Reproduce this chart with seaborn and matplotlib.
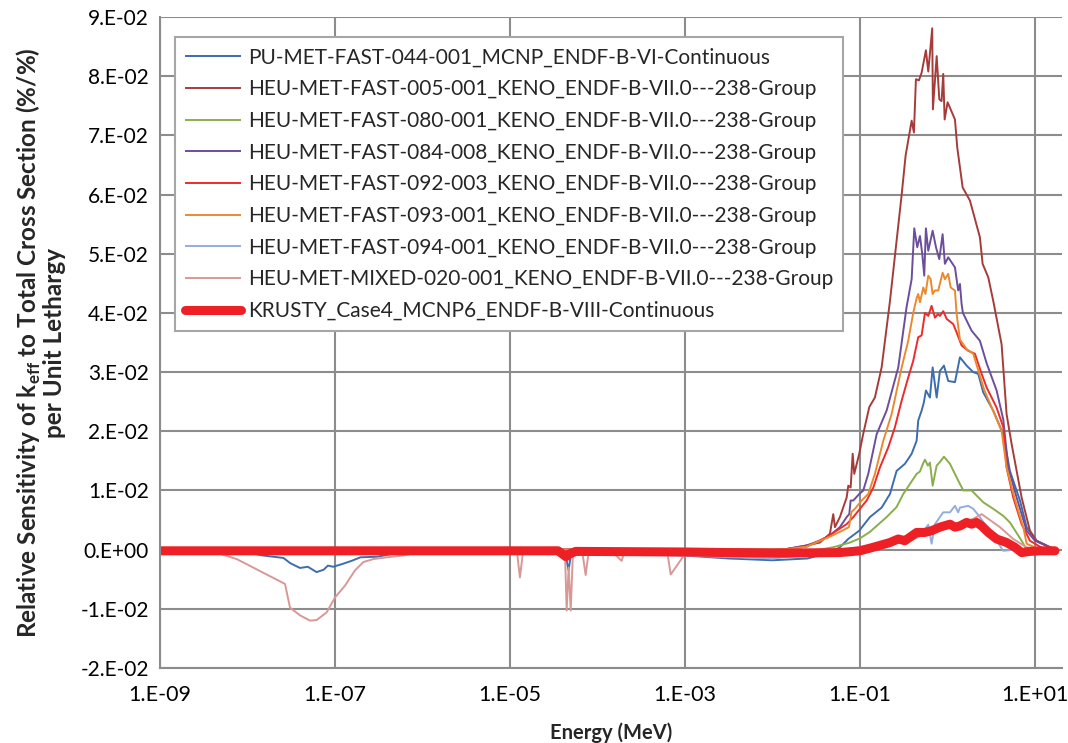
import numpy as np
import pandas as pd
import seaborn as sns
import matplotlib.pyplot as plt
from matplotlib.ticker import FixedLocator, MultipleLocator, NullLocator, FuncFormatter

# ---- data: energies as log10(E / MeV), sensitivities in %/% per unit lethargy ----
names = [
    "PU-MET-FAST-044-001_MCNP_ENDF-B-VI-Continuous",
    "HEU-MET-FAST-005-001_KENO_ENDF-B-VII.0---238-Group",
    "HEU-MET-FAST-080-001_KENO_ENDF-B-VII.0---238-Group",
    "HEU-MET-FAST-084-008_KENO_ENDF-B-VII.0---238-Group",
    "HEU-MET-FAST-092-003_KENO_ENDF-B-VII.0---238-Group",
    "HEU-MET-FAST-093-001_KENO_ENDF-B-VII.0---238-Group",
    "HEU-MET-FAST-094-001_KENO_ENDF-B-VII.0---238-Group",
    "HEU-MET-MIXED-020-001_KENO_ENDF-B-VII.0---238-Group",
    "KRUSTY_Case4_MCNP6_ENDF-B-VIII-Continuous",
]
colors = ["#3C6DAF", "#A63C3A", "#8AAE4C", "#6B4F9C", "#EE2B2B",
          "#EA8A30", "#93AEDC", "#D89896", "#EE1F25"]

pu_loge = [-9.0, -8.2, -7.82, -7.59, -7.51, -7.40, -7.31, -7.21, -7.13, -7.08, -7.02, -6.91,
           -6.81, -6.71, -6.52, -6.26, -5.9, -4.37, -4.33, -4.30, -3.0, -2.5, -2.0, -1.6, -1.34,
           -1.229, -1.134, -1.008, -0.886, -0.752, -0.657, -0.581, -0.486, -0.409, -0.352,
           -0.334, -0.295, -0.269, -0.246, -0.2, -0.169, -0.123, -0.086, -0.04, 0.009, 0.086,
           0.143, 0.219, 0.295, 0.352, 0.409, 0.523, 0.638, 0.714, 0.829, 0.905, 1.019, 1.229]
pu_val = [0, 0, -0.0010, -0.0014, -0.0023, -0.0031, -0.0029, -0.0038, -0.0034, -0.0027, -0.0029,
          -0.0024, -0.0019, -0.0013, -0.0012, -0.0005, 0, -0.0005, -0.0035, -0.0005, -0.0010,
          -0.0015, -0.0018, -0.0015, -0.0005, 0.0004, 0.0018, 0.0032, 0.0055, 0.0071, 0.0094,
          0.0133, 0.0145, 0.0162, 0.0184, 0.0218, 0.0235, 0.0249, 0.0269, 0.0257, 0.0308,
          0.0257, 0.0302, 0.0311, 0.0285, 0.0283, 0.0325, 0.0311, 0.0300, 0.0297, 0.0266,
          0.0235, 0.0195, 0.0133, 0.0083, 0.0038, 0.0015, 0]

h005_loge = [-9.0, -2.0, -1.876, -1.61, -1.457, -1.343, -1.305, -1.286, -1.229, -1.152, -1.133,
             -1.106, -1.083, -1.065, -1.008, -0.962, -0.893, -0.829, -0.752, -0.657, -0.523,
             -0.478, -0.409, -0.383, -0.36, -0.326, -0.295, -0.246, -0.219, -0.174, -0.166,
             -0.123, -0.093, -0.067, -0.048, -0.032, 0.002, 0.086, 0.112, 0.174, 0.257, 0.371,
             0.402, 0.467, 0.524, 0.619, 0.676, 0.733, 0.848, 0.943, 1.019, 1.229]
h005_val = [0, 0, 0, 0.0007, 0.0012, 0.0027, 0.0060, 0.0038, 0.0055, 0.0088, 0.0108, 0.0105,
            0.0162, 0.0128, 0.0162, 0.0196, 0.0241, 0.0257, 0.0308, 0.0420, 0.0600, 0.0666,
            0.0725, 0.0705, 0.0795, 0.0793, 0.0806, 0.0844, 0.0808, 0.0881, 0.0744, 0.0834,
            0.0761, 0.0758, 0.0804, 0.0727, 0.0756, 0.0727, 0.0680, 0.0612, 0.0590, 0.0528,
            0.0483, 0.0460, 0.0420, 0.0347, 0.0229, 0.0179, 0.0088, 0.0032, 0.0015, 0]

h080_loge = [-9.0, -2.0, -1.457, -1.305, -1.114, -1.0, -0.886, -0.695, -0.581, -0.505, -0.352,
             -0.314, -0.28, -0.257, -0.223, -0.2, -0.169, -0.123, -0.086, -0.04, 0.029, 0.105,
             0.181, 0.276, 0.409, 0.523, 0.638, 0.714, 0.848, 0.897, 1.057]
h080_val = [0, -0.0005, 0, 0.0004, 0.0012, 0.0019, 0.0030, 0.0055, 0.0072, 0.0094, 0.0128,
            0.0132, 0.0145, 0.0152, 0.0142, 0.0147, 0.0108, 0.0142, 0.0148, 0.0157, 0.0145,
            0.0122, 0.0100, 0.0100, 0.0080, 0.0069, 0.0057, 0.0046, 0.0015, 0.0002, 0]

h084_loge = [-9.0, -2.0, -1.88, -1.61, -1.457, -1.343, -1.229, -1.152, -1.122, -1.106, -1.076,
             -1.008, -0.962, -0.905, -0.809, -0.695, -0.562, -0.467, -0.409, -0.379, -0.345,
             -0.314, -0.288, -0.265, -0.246, -0.219, -0.169, -0.131, -0.093, -0.055, -0.029,
             0.009, 0.086, 0.123, 0.143, 0.162, 0.177, 0.276, 0.371, 0.448, 0.562, 0.638, 0.695,
             0.791, 0.905, 1.0, 1.229]
h084_val = [0, 0, 0, 0.0007, 0.0015, 0.0024, 0.0038, 0.0055, 0.0060, 0.0083, 0.0083, 0.0094,
            0.0100, 0.0128, 0.0195, 0.0235, 0.0308, 0.0410, 0.0457, 0.0543, 0.0511, 0.0530,
            0.0500, 0.0463, 0.0543, 0.0505, 0.0539, 0.0511, 0.0491, 0.0533, 0.0483, 0.0494,
            0.0477, 0.0438, 0.0449, 0.0415, 0.0400, 0.0370, 0.0353, 0.0315, 0.0269, 0.0220,
            0.0139, 0.0088, 0.0032, 0.0015, 0]

h092_loge = [-9.0, -2.0, -1.88, -1.61, -1.381, -1.267, -1.152, -1.076, -1.0, -0.923, -0.847,
             -0.771, -0.676, -0.6, -0.523, -0.448, -0.391, -0.334, -0.295, -0.257, -0.219,
             -0.181, -0.143, -0.109, -0.086, -0.048, -0.009, 0.067, 0.105, 0.162, 0.238, 0.314,
             0.391, 0.448, 0.562, 0.638, 0.676, 0.752, 0.848, 0.943, 1.114, 1.229]
h092_val = [0, 0, 0, 0.0005, 0.0021, 0.0032, 0.0043, 0.0055, 0.0069, 0.0083, 0.0105, 0.0139,
            0.0173, 0.0207, 0.0252, 0.0291, 0.0319, 0.0359, 0.0362, 0.0400, 0.0395, 0.0412,
            0.0392, 0.0398, 0.0395, 0.0403, 0.0390, 0.0381, 0.0367, 0.0345, 0.0336, 0.0331,
            0.0297, 0.0274, 0.0240, 0.0207, 0.0139, 0.0088, 0.0043, 0.0015, 0, 0]

h093_loge = [-9.0, -2.0, -1.88, -1.61, -1.343, -1.229, -1.126, -1.095, -1.057, -0.981, -0.905,
             -0.829, -0.733, -0.638, -0.523, -0.448, -0.391, -0.352, -0.334, -0.314, -0.276,
             -0.251, -0.219, -0.192, -0.169, -0.143, -0.105, -0.055, -0.029, 0.009, 0.037,
             0.086, 0.105, 0.143, 0.219, 0.295, 0.42, 0.619, 0.676, 0.771, 0.867, 0.905, 1.057,
             1.229]
h093_val = [0, 0, 0, 0.0005, 0.0022, 0.0030, 0.0038, 0.0064, 0.0069, 0.0083, 0.0094, 0.0128,
            0.0184, 0.0229, 0.0308, 0.0353, 0.0400, 0.0425, 0.0432, 0.0418, 0.0443, 0.0432,
            0.0463, 0.0457, 0.0432, 0.0438, 0.0438, 0.0468, 0.0457, 0.0466, 0.0443, 0.0438,
            0.0398, 0.0355, 0.0339, 0.0331, 0.0270, 0.0201, 0.0139, 0.0085, 0.0038, 0.0010, 0, 0]

h094_loge = [-9.0, -3.0, -2.0, -1.5, -0.771, -0.429, -0.257, -0.219, -0.181, -0.143, -0.086,
             -0.048, 0.029, 0.086, 0.123, 0.143, 0.238, 0.295, 0.371, 0.448, 0.562, 0.638,
             0.771, 1.229]
h094_val = [0, -0.0010, -0.0015, -0.0008, 0.0010, 0.0025, 0.0035, 0.0042, 0.0010, 0.0043,
            0.0055, 0.0063, 0.0063, 0.0074, 0.0063, 0.0071, 0.0074, 0.0069, 0.0055, 0.0038,
            0.0015, -0.0002, 0, 0]

mix_loge = [-9.0, -8.543, -8.314, -8.123, -7.571, -7.514, -7.4, -7.286, -7.209, -7.095, -7.0,
            -6.886, -6.771, -6.676, -6.562, -6.409, -6.219, -5.914, -4.923, -4.886, -4.848,
            -4.371, -4.352, -4.329, -4.306, -4.28, -4.177, -4.135, -4.097, -3.857, -3.723,
            -3.686, -3.206, -3.163, -3.026, -2.943, -1.5, -0.886, -0.429, -0.2, 0.295, 0.391,
            0.6, 0.752, 0.905, 1.057, 1.229]
mix_val = [0, 0, -0.0007, -0.0016, -0.0058, -0.0098, -0.0111, -0.0120, -0.0119, -0.0106,
           -0.0081, -0.0061, -0.0035, -0.0021, -0.0016, -0.0013, -0.0010, 0, 0, -0.0047, 0,
           -0.0005, -0.0103, -0.0030, -0.0103, -0.0005, 0, -0.0043, 0, 0, -0.0019, 0, 0,
           -0.0042, -0.0013, -0.0005, -0.0005, 0.0005, 0.0015, 0.0030, 0.0052, 0.0060, 0.0038,
           0.0018, 0.0004, 0, 0]

krusty_loge = [-9.0, -6.0, -4.45, -4.36, -4.33, -4.25, -3.0, -2.0, -1.229, -1.0, -0.847, -0.657,
               -0.562, -0.486, -0.429, -0.352, -0.257, -0.181, -0.086, 0.029, 0.086, 0.143,
               0.219, 0.276, 0.333, 0.391, 0.467, 0.562, 0.676, 0.771, 0.848, 0.943, 1.057, 1.229]
krusty_val = [-0.0002, -0.0002, -0.0002, -0.0012, -0.0008, -0.0003, -0.0004, -0.0006, -0.0005,
              -0.0002, 0.0004, 0.0012, 0.0018, 0.0015, 0.0021, 0.0029, 0.0029, 0.0032, 0.0038,
              0.0043, 0.0038, 0.0040, 0.0046, 0.0043, 0.0046, 0.0040, 0.0029, 0.0018, 0.0012,
              0.0004, -0.0005, -0.0003, -0.0002, -0.0002]

all_loge = [pu_loge, h005_loge, h080_loge, h084_loge, h092_loge, h093_loge, h094_loge,
            mix_loge, krusty_loge]
all_val = [pu_val, h005_val, h080_val, h084_val, h092_val, h093_val, h094_val, mix_val,
           krusty_val]

frames = []
for name, le, v in zip(names, all_loge, all_val):
    frames.append(pd.DataFrame({"series": name, "energy": 10.0 ** np.array(le), "sens": v}))
df = pd.concat(frames, ignore_index=True)

# ---- style ----
sns.set_style("white")
plt.rcParams["font.family"] = ["Lato", "DejaVu Sans"]
plt.rcParams["mathtext.fontset"] = "custom"
plt.rcParams["mathtext.rm"] = "Lato"
plt.rcParams["mathtext.bf"] = "Lato:bold"

fig = plt.figure(figsize=(10.68, 7.43), dpi=100)
ax = fig.add_axes([0.1498, 0.101, 0.8446, 0.876])

for i, name in enumerate(names):
    sub = df[df["series"] == name]
    thick = name.startswith("KRUSTY")
    sns.lineplot(data=sub, x="energy", y="sens", ax=ax, color=colors[i],
                 lw=6.5 if thick else 1.4, label=name, sort=False, estimator=None,
                 solid_capstyle="round" if thick else "butt")

ax.set_xscale("log")
ax.set_xlim(1e-9, 2.04e1)
ax.set_ylim(-0.02, 0.09)
ax.xaxis.set_major_locator(FixedLocator([1e-9, 1e-7, 1e-5, 1e-3, 1e-1, 1e1]))
ax.xaxis.set_minor_locator(NullLocator())
ax.xaxis.set_major_formatter(FuncFormatter(lambda x, p: "1.E%+03d" % int(round(np.log10(x)))))
ax.yaxis.set_major_locator(MultipleLocator(0.01))
ax.yaxis.set_minor_locator(MultipleLocator(0.002))
ax.yaxis.set_major_formatter(FuncFormatter(
    lambda v, p: "0.E+00" if abs(v) < 1e-9 else "%d.E-02" % int(round(v * 100))))

ax.grid(True, which="major", color="#8C8C8C", lw=1.5)
ax.set_axisbelow(True)
for s in ["top", "right"]:
    ax.spines[s].set_visible(False)
for s in ["left", "bottom"]:
    ax.spines[s].set_color("#8C8C8C")
    ax.spines[s].set_linewidth(1.5)

ax.tick_params(axis="x", which="major", labelsize=15.5, length=0, colors="black", pad=12)
ax.tick_params(axis="y", which="major", labelsize=15, length=0, colors="black", pad=8)
ax.tick_params(axis="y", which="minor", direction="in", length=4, width=1, color="#8C8C8C")

ax.set_xlabel("Energy (MeV)", fontsize=14.5, fontweight="bold", labelpad=13)
ax.set_ylabel("Relative Sensitivity of k$_{\\mathbf{eff}}$ to Total Cross Section (%/%)\n"
              "per Unit Lethargy", fontsize=17.5, fontweight="bold", labelpad=10,
              linespacing=1.02)

leg = ax.legend(loc="upper left", bbox_to_anchor=(0.0166, 0.969), borderaxespad=0,
                fontsize=15, frameon=True, fancybox=False, framealpha=1,
                edgecolor="#A6A6A6", handlelength=2.65, handletextpad=0.34,
                labelspacing=0.56, borderpad=0.5)
leg.get_frame().set_linewidth(1.5)

fig.savefig("out.png", dpi=100)
